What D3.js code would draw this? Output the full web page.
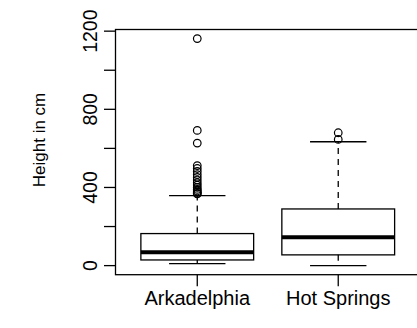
<!DOCTYPE html>
<html>
<head>
<meta charset="utf-8">
<script src="https://cdn.jsdelivr.net/npm/d3@7"></script>
<style>
  html, body { margin: 0; padding: 0; background: #fff; }
  svg { display: block; }
  text { font-family: "Liberation Sans", Arial, Helvetica, sans-serif; fill: #000; }
</style>
</head>
<body>
<svg id="chart" width="417" height="328"></svg>
<script>
// Tree heights by town: five-number summaries plus points beyond the whiskers
const categories  = ["Arkadelphia", "Hot Springs"];
const whiskerLow  = [10, 0];
const q1          = [29, 55];
const median      = [68, 145];
const q3          = [164, 290];
const whiskerHigh = [358, 634];
const outliers = [
  [1162, 692, 627, 512, 497, 482, 466, 452, 438, 424, 412, 400, 390, 382, 376, 370, 367],
  [680, 646]
];
const yTicks      = [0, 200, 400, 600, 800, 1000, 1200];
const yTickLabels = [0, 400, 800, 1200];
const yTitle = "Height in cm";

const svg = d3.select("#chart");
const plot = { left: 115.5, right: 420, top: 29.5, bottom: 274.7 };

// Value range padded by 4% at each end, like R's default axis style
const allVals = whiskerLow.concat(whiskerHigh, outliers.flat());
const vmin = d3.min(allVals), vmax = d3.max(allVals);
const pad = (vmax - vmin) * 0.04;
const y = d3.scaleLinear().domain([vmin - pad, vmax + pad]).range([plot.bottom, plot.top]);

const n = categories.length;
const xPad = n * 0.04;
const x = d3.scaleLinear().domain([0.5 - xPad, n + 0.5 + xPad]).range([plot.left, plot.right]);

const boxW = 0.8, stapleW = 0.4;
const g = svg.append("g");

categories.forEach((c, i) => {
  const cx = x(i + 1);
  const half = (x(boxW / 2) - x(0));
  const sHalf = (x(stapleW / 2) - x(0));

  // dashed whiskers
  g.append("line").attr("x1", cx).attr("x2", cx)
    .attr("y1", y(q3[i])).attr("y2", y(whiskerHigh[i]))
    .attr("stroke", "#000").attr("stroke-width", 1.3).attr("stroke-dasharray", "6,5");
  g.append("line").attr("x1", cx).attr("x2", cx)
    .attr("y1", y(q1[i])).attr("y2", y(whiskerLow[i]))
    .attr("stroke", "#000").attr("stroke-width", 1.3).attr("stroke-dasharray", "6,5");

  // staples
  [whiskerLow[i], whiskerHigh[i]].forEach(v => {
    g.append("line").attr("x1", cx - sHalf).attr("x2", cx + sHalf)
      .attr("y1", y(v)).attr("y2", y(v))
      .attr("stroke", "#000").attr("stroke-width", 1.3);
  });

  // box
  g.append("rect")
    .attr("x", cx - half).attr("width", 2 * half)
    .attr("y", y(q3[i])).attr("height", y(q1[i]) - y(q3[i]))
    .attr("fill", "none").attr("stroke", "#000").attr("stroke-width", 1.3);

  // median
  g.append("line").attr("x1", cx - half).attr("x2", cx + half)
    .attr("y1", y(median[i])).attr("y2", y(median[i]))
    .attr("stroke", "#000").attr("stroke-width", 4);

  // outliers
  g.selectAll(null).data(outliers[i]).enter().append("circle")
    .attr("cx", cx).attr("cy", d => y(d)).attr("r", 3.8)
    .attr("fill", "none").attr("stroke", "#000").attr("stroke-width", 1.2);
});

// plot frame
svg.append("rect")
  .attr("x", plot.left).attr("y", plot.top)
  .attr("width", plot.right - plot.left).attr("height", plot.bottom - plot.top)
  .attr("fill", "none").attr("stroke", "#000").attr("stroke-width", 1.3);

// y axis
const tickLen = 11.5;
const yAxis = svg.append("g");
yTicks.forEach(t => {
  yAxis.append("line")
    .attr("x1", plot.left - tickLen).attr("x2", plot.left)
    .attr("y1", y(t)).attr("y2", y(t))
    .attr("stroke", "#000").attr("stroke-width", 1.3);
});
yTickLabels.forEach(t => {
  yAxis.append("text")
    .attr("transform", `translate(97,${y(t)}) rotate(-90)`)
    .attr("text-anchor", "middle")
    .attr("font-size", 19.5)
    .text(t);
});

// x axis
categories.forEach((c, i) => {
  svg.append("line")
    .attr("x1", x(i + 1)).attr("x2", x(i + 1))
    .attr("y1", plot.bottom).attr("y2", plot.bottom + tickLen)
    .attr("stroke", "#000").attr("stroke-width", 1.3);
  svg.append("text")
    .attr("x", x(i + 1)).attr("y", 305)
    .attr("text-anchor", "middle")
    .attr("font-size", 20)
    .text(c);
});

// y title
svg.append("text")
  .attr("transform", `translate(45,140) rotate(-90)`)
  .attr("text-anchor", "middle")
  .attr("font-size", 17)
  .text(yTitle);
</script>
</body>
</html>
